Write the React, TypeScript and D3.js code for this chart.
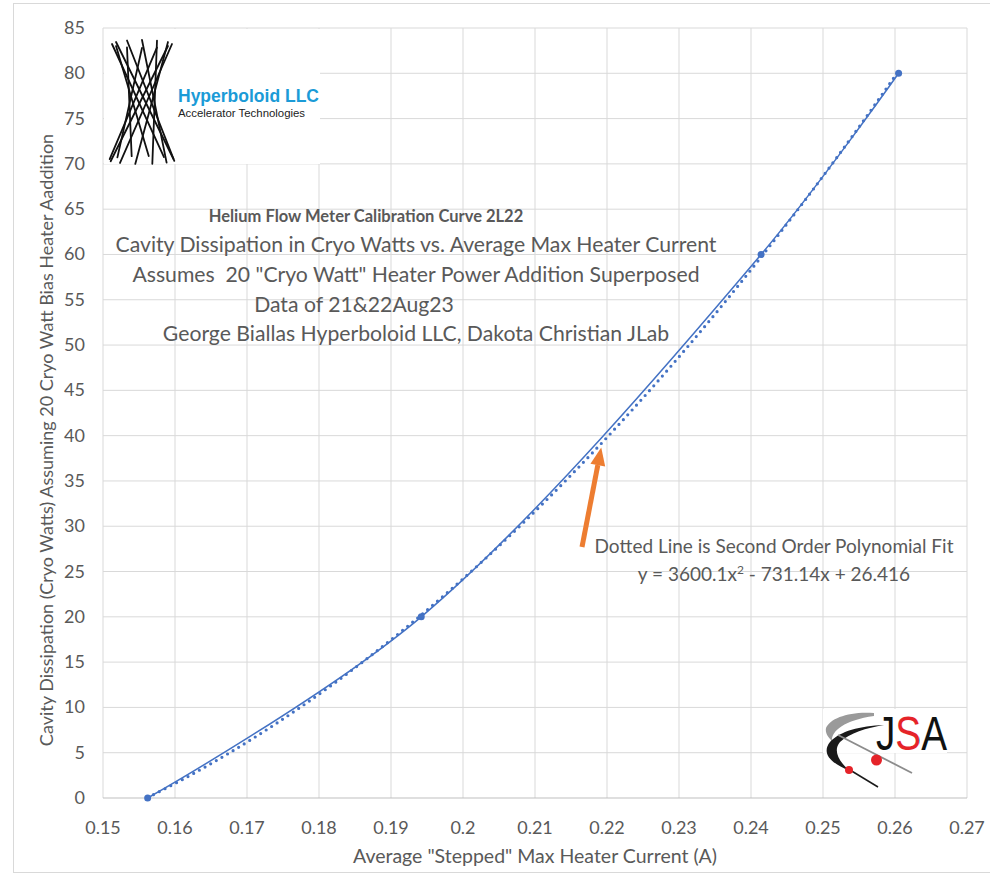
import React from 'react';
import * as d3 from 'd3';

const width = 990;
const height = 875;
const margin = { left: 103, right: 23, top: 28, bottom: 77 };

// measured points (A, cryo W)
const currents = [0.1562, 0.1942, 0.2414, 0.2605];
const dissipation = [0, 20, 60, 80];
// second order trendline, from the chart's own label
const fitCoefficients = [3600.1, -731.14, 26.416];

const xTickValues = [0.15, 0.16, 0.17, 0.18, 0.19, 0.2, 0.21, 0.22, 0.23, 0.24, 0.25, 0.26, 0.27];
const yTickValues = [0, 5, 10, 15, 20, 25, 30, 35, 40, 45, 50, 55, 60, 65, 70, 75, 80, 85];

const titleLines = [
  { text: 'Helium Flow Meter Calibration Curve 2L22', cx: 366, y: 222, bold: true },
  { text: 'Cavity Dissipation in Cryo Watts vs. Average Max Heater Current', cx: 416, y: 252, bold: false },
  { text: 'Assumes  20 "Cryo Watt" Heater Power Addition Superposed', cx: 416, y: 282, bold: false },
  { text: 'Data of 21&22Aug23', cx: 354, y: 312, bold: false },
  { text: 'George Biallas Hyperboloid LLC, Dakota Christian JLab', cx: 416, y: 341, bold: false },
];

const font = 'Lato, "Open Sans", sans-serif';
const grey = '#595959';
const blue = '#4472c4';

const x = d3.scaleLinear().domain([0.15, 0.27]).range([margin.left, width - margin.right]);
const y = d3.scaleLinear().domain([0, 85]).range([height - margin.bottom, margin.top]);

const points = currents.map((c, i) => [c, dissipation[i]] as [number, number]);

const dataLine = d3.line<[number, number]>()
  .x(d => x(d[0]))
  .y(d => y(d[1]))
  .curve(d3.curveCatmullRom.alpha(0.5));

function fit(v: number) {
  return fitCoefficients[0] * v * v + fitCoefficients[1] * v + fitCoefficients[2];
}
const fitX = d3.range(currents[0], currents[currents.length - 1] + 0.0005, 0.001);
const fitLine = d3.line<number>().x(d => x(d)).y(d => y(fit(d)));

const Hyperboloid = () => {
  const cx = 142, top = 44, bot = 160, R = 30, e = 4, phi = 2.3;
  const n = 12;
  const lines = d3.range(n).map(i => {
    const t = (i / n) * Math.PI * 2;
    return (
      <line key={i}
        x1={cx + R * Math.cos(t)} y1={top + e * Math.sin(t)}
        x2={cx + (R + 3) * Math.cos(t + phi)} y2={bot + e * Math.sin(t + phi)}
        stroke="#111" strokeWidth={1.8} strokeLinecap="round" />
    );
  });
  return <g>{lines}</g>;
};

const logoFont = '"Liberation Sans", Arial, sans-serif';

const JsaLogo = () => (
  <g>
    <defs>
      <linearGradient id="jsaFill" gradientUnits="userSpaceOnUse" x1={876} x2={947} y1={0} y2={0}>
        <stop offset="0.27" stopColor="#111" />
        <stop offset="0.27" stopColor="#e52329" />
        <stop offset="0.6" stopColor="#e52329" />
        <stop offset="0.6" stopColor="#111" />
      </linearGradient>
    </defs>
    <rect x={823} y={709} width={124} height={44} fill="#fff" />
    <path d="M 874 713 C 850 711 830 718 826 728 C 825 733 828 737 832 741 C 831 731 845 720 874 716 Z" fill="#9a9a9a" />
    <path d="M 884 725 C 860 726 840 731 830 742 C 822 752 828 762 850 771 C 838 761 833 750 840 742 C 850 733 866 728 884 725 Z" fill="#1a1a1a" />
    <line x1={850} y1={770} x2={878} y2={787} stroke="#1a1a1a" strokeWidth={1.5} />
    <line x1={838} y1={735} x2={912} y2={773} stroke="#8c8c8c" strokeWidth={1.8} />
    <circle cx={876.5} cy={760} r={5.5} fill="#e52329" />
    <circle cx={849} cy={770} r={4} fill="#e52329" />
    <text x={876} y={750} fontFamily={logoFont} fontSize={48} textLength={71} lengthAdjust="spacingAndGlyphs" fill="url(#jsaFill)">JSA</text>
  </g>
);

export default function App() {
  const tip = [x(0.2192), y(38.7)];
  const start = [582, 547];
  const dx = tip[0] - start[0], dy = tip[1] - start[1];
  const len = Math.hypot(dx, dy);
  const ux = dx / len, uy = dy / len;
  const base = [tip[0] - 18 * ux, tip[1] - 18 * uy];
  const head = `${tip[0]},${tip[1]} ${base[0] - 7.5 * uy},${base[1] + 7.5 * ux} ${base[0] + 7.5 * uy},${base[1] - 7.5 * ux}`;

  return (
    <svg width={width} height={height} style={{ position: 'absolute', left: 0, top: 0 }} fontFamily={font}>
      <rect x={0} y={0} width={width} height={height} fill="#fff" />
      <rect x={13.5} y={3.5} width={990} height={869} fill="none" stroke="#d9d9d9" />

      {/* grid */}
      {xTickValues.map(v => (
        <line key={'gx' + v} x1={x(v)} x2={x(v)} y1={y(85)} y2={y(0)} stroke="#d9d9d9" />
      ))}
      {yTickValues.map(v => (
        <line key={'gy' + v} x1={x(0.15)} x2={x(0.27)} y1={y(v)} y2={y(v)} stroke={v === 0 ? '#bfbfbf' : '#d9d9d9'} />
      ))}

      {/* tick labels */}
      {xTickValues.map(v => (
        <text key={'tx' + v} x={x(v)} y={y(0) + 36} textAnchor="middle" fontSize={18} fill={grey}>{String(v)}</text>
      ))}
      {yTickValues.map(v => (
        <text key={'ty' + v} x={85} y={y(v) + 6} textAnchor="end" fontSize={18} fill={grey}>{String(v)}</text>
      ))}

      {/* axis titles */}
      <text x={x(0.21)} y={863} textAnchor="middle" fontSize={19.5} fill={grey}>Average "Stepped" Max Heater Current (A)</text>
      <text transform="translate(53,440) rotate(-90)" textAnchor="middle" fontSize={18} fill={grey}>
        Cavity Dissipation (Cryo Watts) Assuming 20 Cryo Watt Bias Heater Aaddition
      </text>

      {/* Hyperboloid LLC logo */}
      <rect x={104} y={29} width={216} height={135} fill="#fff" />
      <Hyperboloid />
      <text x={178} y={102} fontFamily={logoFont} fontWeight="bold" fontSize={17.5} fill="#1b9bd7">Hyperboloid LLC</text>
      <text x={178} y={117} fontFamily={logoFont} fontSize={11.4} fill="#222">Accelerator Technologies</text>

      <JsaLogo />

      {/* titles */}
      {titleLines.map(l => (
        <text key={l.text} x={l.cx} y={l.y} textAnchor="middle" fontSize={l.bold ? 16.5 : 21.2}
          fontWeight={l.bold ? 'bold' : 'normal'} fill={grey} style={{ whiteSpace: 'pre' }}>{l.text}</text>
      ))}

      {/* series */}
      <path d={fitLine(fitX) || ''} fill="none" stroke={blue} strokeWidth={3.2} strokeLinecap="round" strokeDasharray="0 6.5" />
      <path d={dataLine(points) || ''} fill="none" stroke={blue} strokeWidth={1.5} />
      {points.map((p, i) => (
        <circle key={i} cx={x(p[0])} cy={y(p[1])} r={3.5} fill={blue} />
      ))}

      {/* annotation */}
      <line x1={start[0]} y1={start[1]} x2={base[0]} y2={base[1]} stroke="#ed7d31" strokeWidth={5} />
      <polygon points={head} fill="#ed7d31" />
      <text x={774} y={553} textAnchor="middle" fontSize={19} fill={grey}>Dotted Line is Second Order Polynomial Fit</text>
      <text x={774} y={581} textAnchor="middle" fontSize={19} fill={grey}>
        y = 3600.1x<tspan dy={-7} fontSize={12}>2</tspan><tspan dy={7}> - 731.14x + 26.416</tspan>
      </text>
    </svg>
  );
}
